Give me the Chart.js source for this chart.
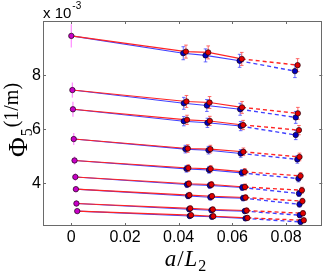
<!DOCTYPE html>
<html><head><meta charset="utf-8">
<script src="https://cdn.jsdelivr.net/npm/chart.js@4"></script>
<style>html,body{margin:0;padding:0;background:#fff}canvas{display:block}</style>
</head><body>
<canvas id="c" width="327" height="273"></canvas>
<script>
// ---- data (y in units of 1e-3 1/m) ----
const xTicks = [0, 0.02, 0.04, 0.06, 0.08];
const yTicks = [4, 6, 8];
const magX = [0.0000, 0.0004, 0.0006, 0.0009, 0.0012, 0.0015, 0.0017, 0.0019, 0.0022];
const magY = [9.45, 7.45, 6.74, 5.64, 4.85, 4.24, 3.79, 3.26, 2.98];
const magErr = [0.43, 0.28, 0.28, 0.22, 0.15, 0.14, 0.12, 0.12, 0.10];
const blueX = [
  [0.0417, 0.0500, 0.0627, 0.0833],
  [0.0419, 0.0505, 0.0629, 0.0836],
  [0.0419, 0.0507, 0.0631, 0.0836],
  [0.0425, 0.0511, 0.0631, 0.0842],
  [0.0429, 0.0513, 0.0635, 0.0846],
  [0.0431, 0.0516, 0.0637, 0.0848],
  [0.0435, 0.0518, 0.0640, 0.0850],
  [0.0439, 0.0522, 0.0646, 0.0851],
  [0.0441, 0.0524, 0.0649, 0.0854]
];
const blueY = [
  [8.81, 8.73, 8.53, 8.15],
  [6.96, 6.88, 6.74, 6.44],
  [6.30, 6.24, 6.12, 5.79],
  [5.27, 5.23, 5.11, 4.89],
  [4.54, 4.50, 4.39, 4.18],
  [3.96, 3.93, 3.85, 3.63],
  [3.54, 3.49, 3.46, 3.23],
  [3.05, 3.01, 2.98, 2.83],
  [2.80, 2.77, 2.71, 2.58]
];
const redX = [
  [0.0427, 0.0510, 0.0635, 0.0843],
  [0.0429, 0.0515, 0.0636, 0.0844],
  [0.0431, 0.0516, 0.0640, 0.0848],
  [0.0434, 0.0518, 0.0641, 0.0850],
  [0.0436, 0.0519, 0.0646, 0.0854],
  [0.0438, 0.0522, 0.0647, 0.0859],
  [0.0440, 0.0524, 0.0649, 0.0861],
  [0.0443, 0.0527, 0.0653, 0.0863],
  [0.0446, 0.0529, 0.0656, 0.0866]
];
const redY = [
  [8.87, 8.84, 8.60, 8.37],
  [7.03, 6.99, 6.81, 6.59],
  [6.35, 6.31, 6.16, 5.97],
  [5.29, 5.27, 5.17, 4.98],
  [4.57, 4.54, 4.43, 4.28],
  [3.99, 3.96, 3.87, 3.75],
  [3.57, 3.53, 3.48, 3.35],
  [3.08, 3.04, 3.00, 2.90],
  [2.83, 2.79, 2.73, 2.64]
];
const ptErr = [0.24, 0.22, 0.17, 0.14, 0.12, 0.11, 0.10, 0.09, 0.08];

// ---- styles ----
const RED_LINE = '#ff2424', BLUE_LINE = '#4040ff';
const RED_FILL = '#e00000', BLUE_FILL = '#0000c0', MAG_FILL = '#c800c8';
const RED_ERR = 'rgba(255,70,70,0.8)', BLUE_ERR = 'rgba(70,70,255,0.8)', MAG_ERR = 'rgba(255,120,255,0.8)';

const datasets = [];
for (let i = 0; i < magX.length; i++) {
  const mag = {x: magX[i], y: magY[i]};
  const r = redX[i].map((x, j) => ({x, y: redY[i][j]}));
  const b = blueX[i].map((x, j) => ({x, y: blueY[i][j]}));
  const line = (data, col, ord, dash, w) => ({type: 'line', data, borderColor: col, borderWidth: w,
      borderDash: dash, pointRadius: 0, fill: false, tension: 0, order: ord});
  datasets.push(line([mag, r[0], r[1], r[2]], RED_LINE, 3, [], 1.1));
  datasets.push(line([mag, b[0], b[1], b[2]], BLUE_LINE, 4, [], 1.1));
  datasets.push(line([r[2], r[3]], RED_LINE, 3, [4, 3], 1.4));
  datasets.push(line([b[2], b[3]], BLUE_LINE, 4, [4, 3], 1.4));
  const mk = (data, col, ord) => ({type: 'scatter', data, pointRadius: 2.7, pointBackgroundColor: col,
      pointBorderColor: '#1a0010', pointBorderWidth: 0.7, showLine: false, order: ord});
  datasets.push(mk(r, RED_FILL, 0));
  datasets.push(mk(b, BLUE_FILL, 1));
  datasets.push(mk([mag], MAG_FILL, 0));
}

const errPlugin = {
  id: 'errbars',
  beforeDatasetsDraw(chart) {
    const {ctx, scales: {x, y}} = chart;
    const bar = (xv, yv, e, col, w, c) => {
      const px = x.getPixelForValue(xv), y1 = y.getPixelForValue(yv - e), y2 = y.getPixelForValue(yv + e);
      ctx.strokeStyle = col; ctx.lineWidth = w;
      ctx.beginPath();
      ctx.moveTo(px, y1); ctx.lineTo(px, y2);
      ctx.moveTo(px - c, y1); ctx.lineTo(px + c, y1);
      ctx.moveTo(px - c, y2); ctx.lineTo(px + c, y2);
      ctx.stroke();
    };
    ctx.save();
    for (let i = 0; i < magX.length; i++) {
      bar(magX[i], magY[i], magErr[i], MAG_ERR, 1.3, 0);
      for (let j = 0; j < 4; j++) {
        bar(blueX[i][j], blueY[i][j], ptErr[i], BLUE_ERR, 1, 1.8);
        bar(redX[i][j], redY[i][j], ptErr[i], RED_ERR, 1, 1.8);
      }
    }
    ctx.restore();
  }
};

const framePlugin = {
  id: 'frame',
  afterDraw(chart) {
    const {ctx, chartArea: a, scales: {x, y}} = chart;
    ctx.save();
    ctx.strokeStyle = '#6a6a6a'; ctx.lineWidth = 1;
    ctx.strokeRect(Math.round(a.left) + 0.5, Math.round(a.top) + 0.5,
                   Math.round(a.right - a.left) - 1, Math.round(a.bottom - a.top) - 1);
    ctx.beginPath();
    const L = 3;
    xTicks.forEach(v => {
      const px = Math.round(x.getPixelForValue(v)) + 0.5;
      ctx.moveTo(px, a.bottom); ctx.lineTo(px, a.bottom - L);
      ctx.moveTo(px, a.top); ctx.lineTo(px, a.top + L);
    });
    yTicks.forEach(v => {
      const py = Math.round(y.getPixelForValue(v)) + 0.5;
      ctx.moveTo(a.left, py); ctx.lineTo(a.left + L, py);
      ctx.moveTo(a.right, py); ctx.lineTo(a.right - L, py);
    });
    ctx.stroke();

    // exponent label
    ctx.fillStyle = '#000';
    ctx.textBaseline = 'alphabetic';
    ctx.textAlign = 'left';
    ctx.font = '15px "Liberation Sans", Arial, sans-serif';
    ctx.fillText('x 10', a.left, a.top - 3);
    const w = ctx.measureText('x 10').width;
    ctx.font = '10px "Liberation Sans", Arial, sans-serif';
    ctx.fillText('-3', a.left + w + 1, a.top - 12);

    const drawParts = (parts, cx, base) => {
      let tot = 0;
      parts.forEach(p => { ctx.font = p[1]; tot += ctx.measureText(p[0]).width + 1; });
      let xx = cx - tot / 2;
      parts.forEach(p => { ctx.font = p[1]; ctx.fillText(p[0], xx, base + p[2]); xx += ctx.measureText(p[0]).width + 1; });
    };
    // x axis title a/L2
    drawParts([
      ['a', 'italic 23px "Liberation Serif", serif', 0],
      ['/', '23px "Liberation Serif", serif', 0],
      ['L', 'italic 23px "Liberation Serif", serif', 0],
      ['2', '16px "Liberation Serif", serif', 5]
    ], 186, 266);

    // y axis title
    ctx.save();
    ctx.translate(27, (a.top + a.bottom) / 2 - 4);
    ctx.rotate(-Math.PI / 2);
    drawParts([
      ['\u03A6', '27px "Liberation Serif", serif', 0],
      ['5', '16px "Liberation Serif", serif', 5],
      ['(1/m)', '20px "Liberation Serif", serif', -9]
    ], 0, 0);
    ctx.restore();
    ctx.restore();
  }
};

new Chart(document.getElementById('c'), {
  type: 'scatter',
  data: {datasets},
  options: {
    responsive: false,
    animation: false,
    layout: {padding: {top: 21, right: 1, left: 0, bottom: 0}},
    plugins: {legend: {display: false}, tooltip: {enabled: false}},
    scales: {
      x: {
        type: 'linear', min: -0.01055, max: 0.0935,
        afterBuildTicks: s => { s.ticks = xTicks.map(v => ({value: v})); },
        afterFit: s => { s.height = 47; },
        grid: {display: false, drawTicks: false}, border: {display: false},
        ticks: {padding: 2, color: '#000', maxRotation: 0, autoSkip: false,
                font: {family: '"Liberation Sans", Arial, sans-serif', size: 16},
                callback: v => String(v)}
      },
      y: {
        type: 'linear', min: 2.43, max: 10,
        afterBuildTicks: s => { s.ticks = yTicks.map(v => ({value: v})); },
        afterFit: s => { s.width = 43; },
        grid: {display: false, drawTicks: false}, border: {display: false},
        ticks: {padding: 2, color: '#000', autoSkip: false,
                font: {family: '"Liberation Sans", Arial, sans-serif', size: 16},
                callback: v => String(v)}
      }
    }
  },
  plugins: [errPlugin, framePlugin]
});
</script>
</body></html>
